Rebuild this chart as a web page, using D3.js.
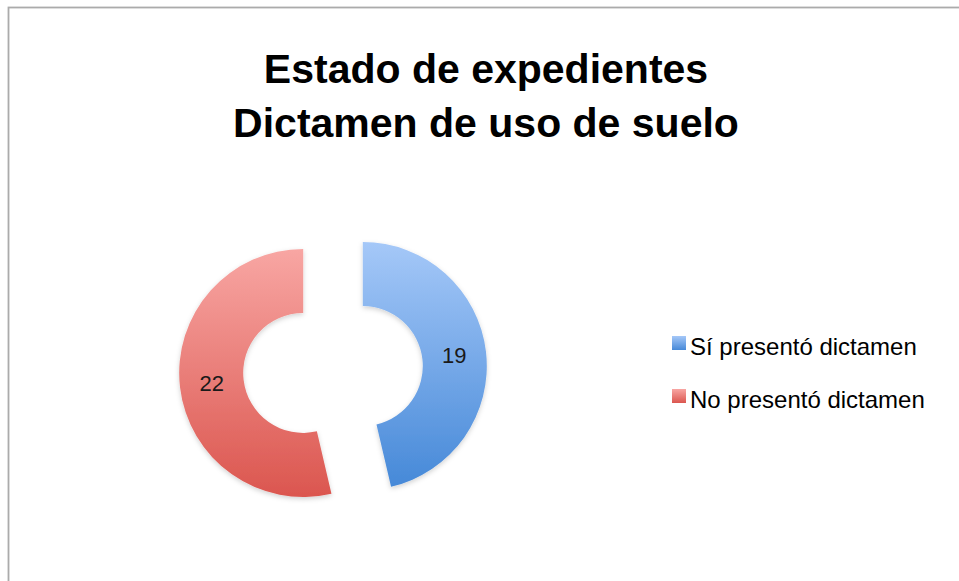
<!DOCTYPE html>
<html>
<head>
<meta charset="utf-8">
<script src="https://cdn.jsdelivr.net/npm/d3@7"></script>
<style>
  body { margin: 0; background: #fff; }
  svg { display: block; }
</style>
</head>
<body>
<svg width="959" height="581"></svg>
<script>
// chart data
var titleLines = ["Estado de expedientes", "Dictamen de uso de suelo"];
var categories = ["Sí presentó dictamen", "No presentó dictamen"];
var values = [19, 22];
var colorTop = ["#a5c8f8", "#f8a6a3"];
var colorBottom = ["#4689d8", "#db564f"];

var svg = d3.select("svg"),
    width = +svg.attr("width"),
    height = +svg.attr("height");

// chart frame (only top and left edges show in the window)
svg.append("rect")
    .attr("x", 8.5)
    .attr("y", 7.5)
    .attr("width", 1000)
    .attr("height", 1000)
    .attr("fill", "none")
    .attr("stroke", "#ababab")
    .attr("stroke-width", 1.8);

// gradients, one per slice
var defs = svg.append("defs");
categories.forEach(function(c, i) {
  var grad = defs.append("linearGradient")
      .attr("id", "grad" + i)
      .attr("x1", 0).attr("y1", 0)
      .attr("x2", 0).attr("y2", 1);
  grad.append("stop").attr("offset", "0%").attr("stop-color", colorTop[i]);
  grad.append("stop").attr("offset", "100%").attr("stop-color", colorBottom[i]);
});

var shadow = defs.append("filter")
    .attr("id", "shadow")
    .attr("x", "-20%").attr("y", "-20%")
    .attr("width", "140%").attr("height", "140%");
shadow.append("feDropShadow")
    .attr("dx", 0).attr("dy", 2)
    .attr("stdDeviation", 2.5)
    .attr("flood-color", "#000")
    .attr("flood-opacity", 0.18);

// title
svg.append("g")
    .attr("font-family", "'Liberation Sans', Arial, sans-serif")
    .attr("font-weight", "bold")
    .attr("font-size", 41)
    .attr("text-anchor", "middle")
    .attr("fill", "#000")
  .selectAll("text")
  .data(titleLines)
  .enter().append("text")
    .attr("x", 486)
    .attr("y", function(d, i) { return 83 + i * 54; })
    .text(function(d) { return d; });

// donut
var cx = 333, cy = 369.5,
    outerR = 124, innerR = 60,
    explode = 30;

var pie = d3.pie().sort(null).value(function(d) { return d; });
var arc = d3.arc().innerRadius(innerR).outerRadius(outerR);
var labelArc = d3.arc().innerRadius((innerR + outerR) / 2).outerRadius((innerR + outerR) / 2);

var slices = svg.append("g")
    .attr("transform", "translate(" + cx + "," + cy + ")")
  .selectAll("g")
  .data(pie(values))
  .enter().append("g")
    .attr("transform", function(d) {
      var a = (d.startAngle + d.endAngle) / 2;
      return "translate(" + (Math.sin(a) * explode) + "," + (-Math.cos(a) * explode) + ")";
    });

slices.append("path")
    .attr("d", arc)
    .attr("fill", function(d, i) { return "url(#grad" + i + ")"; })
    .attr("filter", "url(#shadow)");

slices.append("text")
    .attr("transform", function(d) { return "translate(" + labelArc.centroid(d) + ")"; })
    .attr("dy", "0.35em")
    .attr("text-anchor", "middle")
    .attr("font-family", "'Liberation Sans', Arial, sans-serif")
    .attr("font-size", 22)
    .attr("fill", "#1a1a1a")
    .text(function(d) { return d.data; });

// legend
var legend = svg.append("g")
    .attr("font-family", "'Liberation Sans', Arial, sans-serif")
    .attr("font-size", 24)
  .selectAll("g")
  .data(categories)
  .enter().append("g")
    .attr("transform", function(d, i) { return "translate(672," + (336 + i * 53) + ")"; });

legend.append("rect")
    .attr("width", 14)
    .attr("height", 14)
    .attr("fill", function(d, i) { return "url(#grad" + i + ")"; });

legend.append("text")
    .attr("x", 18)
    .attr("y", 19)
    .attr("fill", "#000")
    .text(function(d) { return d; });
</script>
</body>
</html>
